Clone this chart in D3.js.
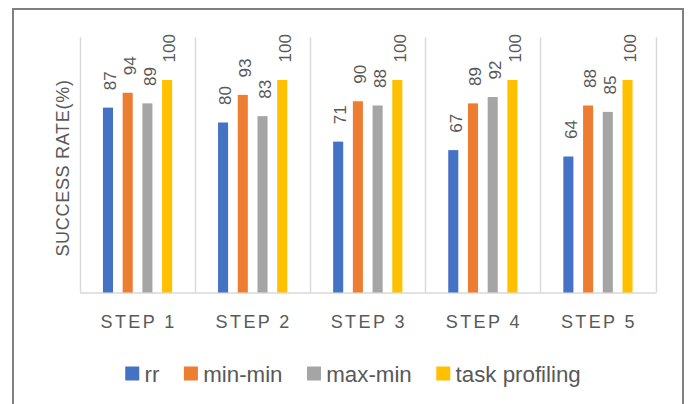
<!DOCTYPE html>
<html>
<head>
<meta charset="utf-8">
<script src="https://cdn.jsdelivr.net/npm/d3@7"></script>
<style>
  html, body { margin: 0; padding: 0; background: #fff; }
  svg { display: block; }
  text { font-family: "Liberation Sans", Arial, sans-serif; fill: #595959; }
</style>
</head>
<body>
<div id="chart"></div>
<script>
const categories = ["STEP 1", "STEP 2", "STEP 3", "STEP 4", "STEP 5"];
const seriesNames = ["rr", "min-min", "max-min", "task profiling"];
const rrValues = [87, 80, 71, 67, 64];
const minMinValues = [94, 93, 90, 89, 88];
const maxMinValues = [89, 83, 88, 92, 85];
const taskProfilingValues = [100, 100, 100, 100, 100];
const seriesColors = ["#4472C4", "#ED7D31", "#A5A5A5", "#FFC000"];
const yAxisTitle = "SUCCESS RATE(%)";
const yMax = 120;

const seriesValues = [rrValues, minMinValues, maxMinValues, taskProfilingValues];

const W = 691, H = 404;
const svg = d3.select("#chart").append("svg").attr("width", W).attr("height", H);

// outer chart border
svg.append("rect")
  .attr("x", 13).attr("y", 9).attr("width", 670).attr("height", 410)
  .attr("fill", "none").attr("stroke", "#808080").attr("stroke-width", 2);

const plot = { left: 80, right: 655.5, top: 37.5, bottom: 292.5 };

const x = d3.scaleBand().domain(categories).range([plot.left, plot.right]).padding(0);
const xs = d3.scaleBand().domain(seriesNames).range([0, x.bandwidth()])
  .paddingInner(0.49).paddingOuter(1.164);
const y = d3.scaleLinear().domain([0, yMax]).range([plot.bottom, plot.top]);

// vertical category separators
const seps = categories.map(c => x(c)).concat([plot.right]);
svg.append("g").selectAll("line").data(seps).join("line")
  .attr("x1", d => Math.round(d) + 0.5).attr("x2", d => Math.round(d) + 0.5)
  .attr("y1", y(yMax)).attr("y2", y(0))
  .attr("stroke", "#D9D9D9").attr("stroke-width", 1.5);

// baseline
svg.append("line")
  .attr("x1", plot.left).attr("x2", plot.right + 1)
  .attr("y1", y(0) + 0.5).attr("y2", y(0) + 0.5)
  .attr("stroke", "#D9D9D9").attr("stroke-width", 1.5);

// bars
const bars = [];
seriesNames.forEach((s, si) => {
  categories.forEach((c, ci) => {
    bars.push({ s, si, c, v: seriesValues[si][ci] });
  });
});

svg.append("g").selectAll("rect").data(bars).join("rect")
  .attr("x", d => x(d.c) + xs(d.s))
  .attr("width", xs.bandwidth())
  .attr("y", d => y(d.v))
  .attr("height", d => y(0) - y(d.v))
  .attr("fill", d => seriesColors[d.si]);

// data labels (rotated)
svg.append("g").selectAll("text").data(bars).join("text")
  .attr("transform", d => {
    const cx = x(d.c) + xs(d.s) + xs.bandwidth() / 2 + 8.3;
    const cy = y(d.v) - 17.5;
    return `translate(${cx},${cy}) rotate(-90)`;
  })
  .attr("text-anchor", "start")
  .style("font-size", "17px")
  .text(d => d.v);

// x axis labels
svg.append("g").selectAll("text").data(categories).join("text")
  .attr("x", d => x(d) + x.bandwidth() / 2 + 1)
  .attr("y", 327.5)
  .attr("text-anchor", "middle")
  .style("font-size", "18px")
  .style("letter-spacing", "2.4px")
  .text(d => d);

// y axis title
svg.append("text")
  .attr("transform", `translate(68.5,${(plot.top + plot.bottom) / 2 + 3}) rotate(-90)`)
  .attr("text-anchor", "middle")
  .style("font-size", "18px")
  .style("letter-spacing", "0.7px")
  .text(yAxisTitle);

// legend
const legend = svg.append("g");
const items = legend.selectAll("g").data(seriesNames).join("g");
items.append("rect").attr("width", 14).attr("height", 14)
  .attr("y", 366.5).attr("fill", (d, i) => seriesColors[i]);
items.append("text").attr("y", 381.5).style("font-size", "22.3px").text(d => d);
let cursor = 0;
const positions = [];
items.each(function () {
  const t = d3.select(this).select("text").node().getComputedTextLength();
  positions.push(cursor);
  cursor += 14 + 5.3 + t + 24.5;
});
const totalW = cursor - 24.5;
const startX = 353 - totalW / 2;
items.attr("transform", (d, i) => `translate(${startX + positions[i]},0)`);
items.select("text").attr("x", 19.3);
</script>
</body>
</html>
